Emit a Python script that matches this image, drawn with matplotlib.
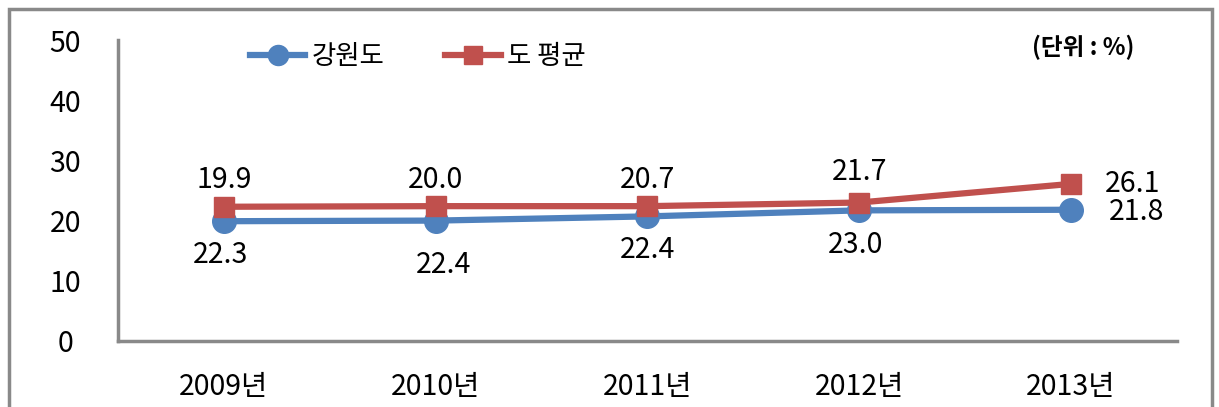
import matplotlib
matplotlib.use("Agg")
import matplotlib.pyplot as plt
from matplotlib.patches import Rectangle

plt.rcParams['font.family'] = ['Noto Sans CJK KR', 'DejaVu Sans']

# ==============================================================================
# DADOS
# ==============================================================================
years = ["2009년", "2010년", "2011년", "2012년", "2013년"]
gangwon = [19.9, 20.0, 20.7, 21.7, 21.8]
do_avg = [22.3, 22.4, 22.4, 23.0, 26.1]
y_ticks = [0, 10, 20, 30, 40, 50]

BLUE = "#4F81BD"
RED = "#C0504D"
GRAY = "#898989"

# offsets dos rótulos (pixels), como no gráfico original
blue_off = [(0, 41), (0, 41), (0, 36), (0, 38), (65, -2)]
red_off = [(-3, -48), (8, -59), (0, -44), (-4, -42), (62, 0)]

fig = plt.figure(figsize=(12.19, 4.07), dpi=100)
ax = fig.add_axes([118 / 1219, 1 - 341 / 407, (1177 - 118) / 1219, (341 - 40) / 407])

x = list(range(len(years)))
ax.plot(x, gangwon, color=BLUE, lw=4.5, marker="o", ms=17, label="강원도", zorder=3)
ax.plot(x, do_avg, color=RED, lw=4.5, marker="s", ms=15, label="도 평균", zorder=4)

for i, v in enumerate(gangwon):
    ax.annotate(f"{v:.1f}", (x[i], v), xytext=blue_off[i], textcoords="offset pixels",
                ha="center", va="center", fontsize=20.5, annotation_clip=False)
for i, v in enumerate(do_avg):
    ax.annotate(f"{v:.1f}", (x[i], v), xytext=red_off[i], textcoords="offset pixels",
                ha="center", va="center", fontsize=20.5, annotation_clip=False)

ax.set_xlim(-0.5, len(years) - 0.5)
ax.set_ylim(0, 50)
ax.set_yticks(y_ticks)
ax.set_xticks(x)
ax.set_xticklabels(years)
ax.tick_params(axis="y", length=0, pad=38, labelsize=20.5)
ax.tick_params(axis="x", length=0, pad=22, labelsize=20.5)
for lab in ax.get_yticklabels():
    lab.set_horizontalalignment("center")

for s in ["top", "right"]:
    ax.spines[s].set_visible(False)
for s in ["left", "bottom"]:
    ax.spines[s].set_color(GRAY)
    ax.spines[s].set_linewidth(2.5)

ax.legend(loc="center left", bbox_to_anchor=(250 / 1219, 1 - 57 / 407),
          bbox_transform=fig.transFigure, ncol=2, frameon=False, fontsize=19,
          borderpad=0, borderaxespad=0, handlelength=2.1, handletextpad=0.25,
          columnspacing=2.3, markerscale=0.85)

fig.text(1083 / 1219, 1 - 47 / 407, "(단위 : %)", ha="center", va="center",
         fontsize=17, fontweight="bold")

# moldura externa
fig.patches.append(Rectangle((9 / 1219, -0.2), (1212 - 9) / 1219, 1.2 - 9 / 407,
                             transform=fig.transFigure, fill=False,
                             edgecolor=GRAY, lw=2.5, zorder=0))

fig.savefig("out.png", dpi=100)
